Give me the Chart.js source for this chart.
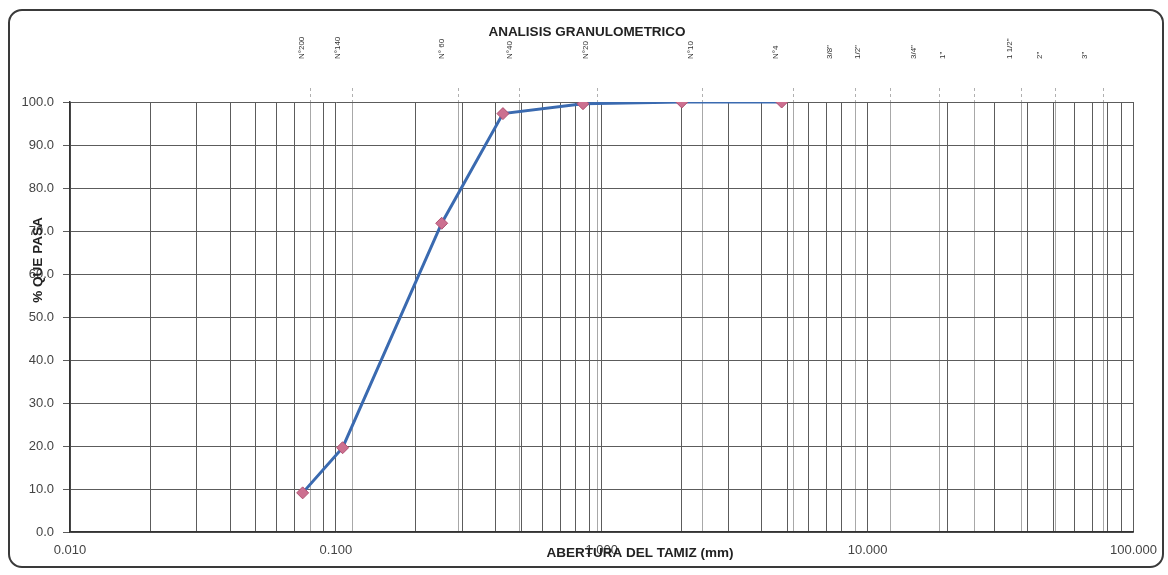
<!DOCTYPE html>
<html><head><meta charset="utf-8">
<script src="https://cdn.jsdelivr.net/npm/chart.js@4.4.0/dist/chart.umd.min.js"></script>
<style>
html,body{margin:0;padding:0;background:#fff;}
#wrap{position:relative;width:1168px;height:575px;overflow:hidden;background:#fff;}
#frame{position:absolute;left:8px;top:9px;width:1156px;height:559px;box-sizing:border-box;border:2px solid #3a3a3a;border-radius:14px;}
canvas{position:absolute;left:0;top:0;}
</style></head><body>
<div id="wrap"><div id="frame"></div><canvas id="c" width="1168" height="575"></canvas></div>
<script>
// ---- data ----
const sieveSizesMM = [0.075, 0.106, 0.250, 0.425, 0.850, 2.000, 4.750];
const percentPassing = [9.1, 19.6, 71.8, 97.3, 99.6, 100.0, 100.0];

const decadeTicks = [0.01, 0.1, 1, 10, 100];
const decadeLabels = ['0.010', '0.100', '1.000', '10.000', '100.000'];
const yTickValues = [0, 10, 20, 30, 40, 50, 60, 70, 80, 90, 100];

const sieveNames = ['N°200', 'N°140', 'N° 60', 'N°40', 'N°20', 'N°10', 'N°4', '3/8"', '1/2"', '3/4"', '1"', '1 1/2"', '2"', '3"'];
const sieveLabelAtMM = [0.0812, 0.1106, 0.272, 0.488, 0.946, 2.35, 4.92, 7.81, 10.0, 16.2, 20.8, 37.3, 48.2, 71.5];
const sieveLineAtMM = [0.0805, 0.1155, 0.289, 0.489, 0.962, 2.40, 5.26, 9.0, 12.2, 18.6, 25.3, 37.9, 50.8, 77.3];

const chartTitle = 'ANALISIS GRANULOMETRICO';
const xTitle = 'ABERTURA DEL TAMIZ (mm)';
const yTitle = '% QUE PASA';

// log grid values 1..9 per decade
const minorGrid = [];
for (let i = 0; i < decadeTicks.length - 1; i++) {
  for (let m = 1; m <= 9; m++) minorGrid.push(+(decadeTicks[i] * m).toPrecision(6));
}
minorGrid.push(decadeTicks[decadeTicks.length - 1]);

const FONT = "'Liberation Sans', Arial, sans-serif";

const textPlugin = {
  id: 'axisTexts',
  afterDraw(chart) {
    const ctx = chart.ctx, a = chart.chartArea;
    ctx.save();
    ctx.fillStyle = '#222';
    ctx.textAlign = 'center';
    ctx.textBaseline = 'middle';
    ctx.font = "bold 13.5px " + FONT;
    ctx.fillText(chartTitle, 587, a.top - 70);
    ctx.fillText(xTitle, a.left + 570, a.bottom + 21);
    ctx.translate(a.left - 32, a.top + 158);
    ctx.rotate(-Math.PI / 2);
    ctx.fillText(yTitle, 0, 0);
    ctx.restore();
  }
};

new Chart(document.getElementById('c'), {
  type: 'line',
  data: {
    datasets: [{
      data: sieveSizesMM.map((v, i) => ({ x: v, y: percentPassing[i] })),
      borderColor: '#3A6AB0',
      borderWidth: 3,
      tension: 0,
      pointStyle: 'rectRot',
      pointRadius: 6,
      pointBackgroundColor: '#CC7090',
      pointBorderColor: '#B05070',
      pointBorderWidth: 1,
      xAxisID: 'x',
      yAxisID: 'y'
    }]
  },
  options: {
    responsive: false,
    animation: false,
    events: [],
    layout: { padding: { left: 0, right: 25, top: 0, bottom: 0 } },
    plugins: {
      legend: { display: false },
      tooltip: { enabled: false },
      title: { display: false }
    },
    scales: {
      x: {
        type: 'logarithmic',
        position: 'bottom',
        min: 0.01, max: 100,
        afterBuildTicks: s => { s.ticks = minorGrid.map(v => ({ value: v, major: decadeTicks.includes(v) })); },
        afterFit: s => { s.height = 43; },
        ticks: {
          autoSkip: false, maxRotation: 0, minRotation: 0, padding: 11,
          color: '#444', font: { family: FONT, size: 13 },
          callback: (v) => { const i = decadeTicks.indexOf(v); return i >= 0 ? decadeLabels[i] : ''; }
        },
        grid: { color: '#5c5c5c', lineWidth: 1, drawTicks: false },
        border: { display: true, color: '#333', width: 1.5 }
      },
      xLines: {
        type: 'logarithmic',
        position: 'top',
        min: 0.01, max: 100,
        afterBuildTicks: s => { s.ticks = sieveLineAtMM.map(v => ({ value: v })); },
        afterFit: s => { s.height = 0; },
        ticks: { display: false },
        grid: { color: '#a8a8a8', lineWidth: 1, borderDash: [3, 3], drawTicks: true, tickLength: 14, tickColor: '#b0b0b0', tickBorderDash: [3, 3] },
        border: { display: false }
      },
      xSieve: {
        type: 'logarithmic',
        position: 'top',
        min: 0.01, max: 100,
        afterBuildTicks: s => { s.ticks = sieveLabelAtMM.map(v => ({ value: v })); },
        afterFit: s => { s.height = 102; },
        ticks: {
          autoSkip: false, minRotation: 90, maxRotation: 90, padding: 43,
          color: '#333', font: { family: FONT, size: 8 },
          callback: (v, i) => sieveNames[i]
        },
        grid: { display: false, drawTicks: false },
        border: { display: false }
      },
      y: {
        min: 0, max: 100,
        afterBuildTicks: s => { s.ticks = yTickValues.map(v => ({ value: v })); },
        afterFit: s => { s.width = 70; },
        ticks: {
          padding: 9, color: '#444', font: { family: FONT, size: 13 },
          callback: v => Number(v).toFixed(1)
        },
        grid: { color: '#5c5c5c', lineWidth: 1, drawTicks: true, tickLength: 7 },
        border: { display: true, color: '#333', width: 1.5 }
      }
    }
  },
  plugins: [textPlugin]
});
</script>
</body></html>
